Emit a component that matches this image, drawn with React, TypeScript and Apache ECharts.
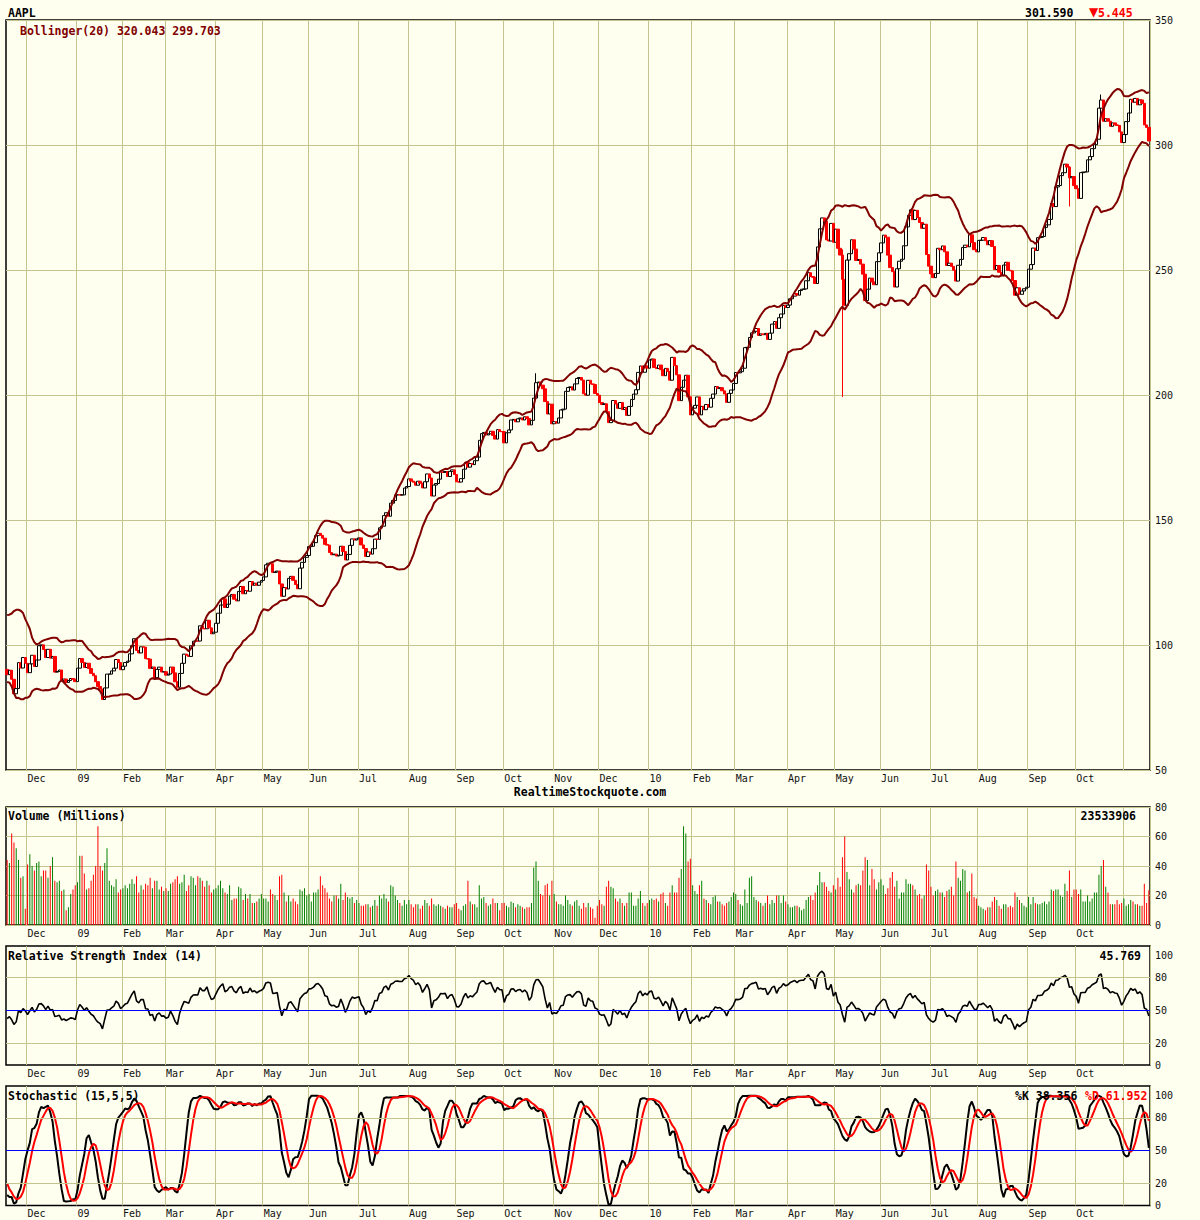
import React, { useEffect, useRef } from 'react';
import * as echarts from 'echarts';

// ---------- DATA ----------
// trading-day closes (USD). Warm-up closes precede the visible range (for indicators only)
const warmupCloses = [98.44, 91.49, 96.87, 98.23, 96.38, 92.09, 99.91, 104.55, 111.04, 107.59, 106.96, 110.99, 103.3, 99.1, 98.24, 95.88, 94.77, 90.12, 96.44, 90.24];

const closes2008 = [
  88.14, 89.91, 86.29, 80.49, 82.58, 92.95, 90.8, 95.0, 92.67,
  88.93, 92.47, 95.9, 91.41, 94.0, 99.72, 100.06, 98.21, 95.0, 98.27, 94.75, 95.43, 89.16, 89.43, 90.0, 85.74, 86.38, 85.04, 85.81, 86.61, 86.29, 85.35,
];
const closes2009 = [
  90.75, 94.58, 93.02, 91.01, 92.7, 90.58, 88.66, 87.71, 85.33, 83.38, 82.33, 78.2, 82.83, 88.36, 88.36, 89.64, 90.73, 94.2, 93.0, 90.13,
  91.51, 92.98, 93.55, 96.46, 99.72, 102.51, 97.83, 96.82, 99.27, 99.16, 94.53, 94.37, 90.64, 91.2, 86.95, 90.25, 91.16, 89.19, 89.31,
  87.94, 88.37, 91.17, 88.84, 85.3, 83.11, 88.63, 92.68, 96.35, 95.93, 95.42, 99.66, 101.52, 101.62, 101.59, 107.66, 106.5, 106.49, 109.87, 106.85, 104.49, 105.12,
  108.69, 112.71, 115.99, 118.45, 115.0, 116.32, 119.57, 120.22, 118.31, 117.64, 121.45, 123.42, 120.5, 121.76, 121.51, 125.4, 123.9, 124.73, 123.9, 125.14, 125.83,
  127.24, 132.07, 132.71, 132.5, 129.06, 129.19, 129.57, 124.42, 119.49, 122.95, 122.42, 126.65, 127.45, 125.87, 124.18, 122.5, 130.78, 133.05, 135.07, 135.81,
  139.35, 139.49, 140.95, 143.74, 144.67, 143.85, 142.72, 140.25, 139.95, 136.97, 136.09, 136.35, 135.58, 135.88, 139.48, 137.37, 134.01, 136.22, 139.86, 142.44, 141.97, 142.43,
  142.83, 140.02, 138.61, 135.4, 137.22, 136.36, 138.52, 142.34, 142.27, 146.88, 147.52, 151.75, 152.91, 151.51, 156.74, 157.82, 159.99, 160.1, 160.0, 160.03, 162.79, 163.39,
  166.43, 165.55, 165.11, 163.91, 165.51, 164.72, 162.83, 165.31, 168.42, 166.78, 159.59, 164.0, 164.6, 166.33, 169.22, 169.06, 169.4, 167.41, 169.45, 170.05, 168.21,
  165.3, 165.18, 166.55, 170.31, 172.93, 171.14, 172.56, 172.16, 173.72, 175.16, 181.87, 184.55, 185.02, 184.02, 184.48, 185.5, 183.82, 182.37, 186.15, 185.38, 185.35,
  180.86, 184.9, 186.02, 190.01, 190.25, 189.27, 190.47, 190.81, 190.02, 191.29, 190.56, 188.05, 189.86, 198.76, 204.92, 205.2, 203.94, 202.48, 197.37, 192.4, 196.35, 188.5,
  189.31, 188.75, 190.81, 194.03, 194.34, 201.46, 202.98, 203.25, 201.99, 204.45, 206.63, 207.0, 205.96, 200.51, 199.92, 205.88, 204.44, 204.19, 200.59, 199.91,
  196.97, 196.23, 196.48, 193.32, 188.95, 189.87, 197.8, 196.43, 194.67, 196.98, 194.17, 195.03, 191.86, 195.43, 198.23, 200.36, 202.1, 209.04, 211.61, 209.1, 211.64, 210.73,
];
const closes2010 = [
  214.01, 214.38, 210.97, 210.58, 211.98, 210.11, 207.72, 210.65, 209.43, 205.93, 215.04, 211.73, 208.07, 197.75, 203.08, 205.94, 207.88, 199.29, 192.06,
  194.73, 195.86, 199.23, 192.05, 195.46, 194.12, 196.19, 195.12, 198.67, 200.38, 203.4, 202.55, 202.93, 201.67, 200.42, 197.06, 200.66, 202.0, 204.62,
  208.99, 208.85, 209.33, 210.71, 218.95, 219.08, 223.02, 224.84, 225.5, 226.6, 223.84, 224.45, 224.12, 224.65, 222.25, 224.75, 228.36, 229.37, 226.65, 230.9, 232.39, 235.84, 235.0,
  235.97, 238.49, 239.54, 240.6, 239.95, 241.79, 242.29, 242.43, 245.69, 248.92, 247.4, 247.07, 244.59, 259.22, 266.47, 270.83, 269.5, 262.04, 261.6, 268.64, 261.09,
  266.35, 258.68, 255.98, 246.25, 235.86, 253.99, 256.52, 262.09, 258.36, 253.82, 254.22, 252.36, 248.34, 237.76, 242.32, 246.76, 245.22, 244.11, 253.35, 256.88,
  260.83, 263.95, 263.12, 255.96, 250.94, 249.33, 243.2, 250.51, 253.51, 254.28, 259.69, 267.25, 271.87, 274.07, 270.17, 273.85, 270.97, 269.0, 266.7, 268.3, 256.17, 251.53,
  248.48, 246.94, 248.63, 258.67, 258.09, 259.62, 257.28, 251.8, 252.73, 251.45, 249.9, 245.58, 251.89, 254.24, 259.02, 259.94, 259.28, 264.08, 260.96, 258.11, 257.25,
  261.85, 261.93, 262.98, 261.7, 260.09, 261.75, 259.41, 250.19, 251.79, 249.1, 247.64, 251.97, 253.07, 249.88, 249.64, 245.8, 239.93, 242.89, 240.28, 241.62, 242.5, 243.1,
  250.33, 252.17, 258.77, 257.81, 262.92, 263.07, 263.41, 267.04, 268.06, 270.22, 276.57, 275.37, 283.23, 283.77, 287.75, 288.92, 292.32, 291.16, 286.86, 287.37, 283.75,
  282.52, 278.64, 288.94, 289.19, 289.22, 294.07, 295.36, 298.54, 300.14, 302.31, 314.74, 318.0, 309.49, 310.53, 309.52, 307.47, 308.84, 308.05, 307.83, 305.24, 300.98,
  304.18, 309.36, 312.8, 318.27, 317.13, 318.62, 316.08, 318.03, 316.66, 308.03, 307.04, 301.59,
];

// daily volume, millions of shares (visible range)
const volumes2008 = [
  44, 42, 62, 56, 52, 44, 32, 33, 11,
  41, 48, 40, 37, 42, 43, 33, 37, 37, 32, 40, 46, 30, 29, 30, 23, 24, 10, 12, 21, 24, 27,
];
const volumes2009 = [
  29, 47, 47, 35, 24, 25, 30, 34, 40, 67, 40, 37, 42, 52, 30, 27, 26, 31, 22, 24,
  25, 27, 25, 28, 31, 28, 33, 22, 27, 24, 28, 27, 32, 25, 30, 30, 24, 26, 23,
  25, 23, 28, 29, 31, 33, 28, 29, 34, 23, 27, 33, 32, 27, 33, 32, 30, 26, 30, 27, 22, 24,
  25, 27, 30, 25, 22, 21, 27, 17, 18, 18, 26, 25, 17, 21, 18, 21, 15, 15, 16, 18, 21,
  18, 18, 16, 24, 21, 20, 17, 33, 34, 22, 16, 20, 16, 18, 16, 14, 24, 23, 25, 20,
  21, 16, 22, 22, 24, 33, 27, 25, 22, 18, 16, 20, 20, 18, 28, 17, 22, 19, 18, 19, 15, 17,
  15, 13, 13, 14, 14, 12, 13, 17, 13, 20, 18, 21, 18, 16, 27, 26, 20, 17, 15, 13, 17, 14,
  17, 14, 12, 14, 14, 11, 13, 17, 15, 13, 18, 14, 13, 14, 13, 12, 11, 13, 12, 12, 14,
  15, 11, 10, 13, 14, 30, 16, 14, 14, 12, 27, 18, 19, 15, 13, 14, 18, 15, 15, 10, 15,
  15, 13, 12, 16, 15, 12, 14, 13, 12, 11, 12, 12, 15, 39, 43, 30, 21, 20, 27, 28, 20, 30,
  21, 16, 14, 14, 13, 20, 17, 14, 13, 16, 17, 13, 11, 15, 12, 15, 12, 11, 5, 13,
  17, 14, 13, 26, 30, 26, 25, 18, 16, 18, 15, 13, 15, 22, 22, 13, 13, 18, 23, 15, 13, 15,
];
const volumes2010 = [
  17, 18, 17, 18, 16, 21, 22, 15, 13, 22, 27, 22, 22, 32, 38, 67, 62, 43, 45,
  27, 23, 21, 27, 30, 18, 17, 15, 14, 19, 20, 16, 16, 14, 13, 15, 16, 19, 22,
  21, 17, 14, 13, 24, 15, 32, 33, 19, 17, 16, 15, 13, 15, 20, 14, 17, 15, 20, 20, 15, 20, 16,
  14, 12, 12, 13, 13, 12, 10, 11, 17, 19, 20, 17, 22, 27, 36, 29, 29, 26, 23, 22, 27,
  24, 32, 26, 46, 60, 36, 31, 24, 22, 27, 28, 27, 37, 46, 44, 27, 38, 31, 24, 29,
  31, 27, 21, 25, 32, 36, 26, 30, 18, 22, 22, 31, 28, 28, 27, 24, 20, 21, 18, 20, 41, 37,
  26, 20, 23, 24, 22, 22, 19, 23, 24, 26, 20, 43, 32, 30, 38, 37, 22, 23, 35, 19, 18,
  13, 12, 11, 10, 12, 12, 16, 19, 17, 13, 11, 14, 14, 12, 13, 12, 22, 19, 17, 15, 13, 12,
  19, 14, 19, 15, 14, 14, 15, 16, 14, 16, 24, 23, 24, 24, 20, 19, 28, 23, 37, 19, 24,
  24, 21, 24, 16, 16, 20, 16, 18, 22, 22, 34, 40, 44, 26, 22, 14, 14, 14, 17, 14, 15,
  18, 13, 14, 17, 16, 14, 14, 13, 13, 28, 15, 23.53,
];

// notable intraday extremes (wicks)
const wickDates = ['2009-10-21', '2010-05-06', '2010-09-28', '2010-10-18'];
const wickHighs = [208.7, 258.25, 291.5, 320.2];
const wickLows = [202.5, 199.25, 275.4, 309.0];

const holidays = ['2008-11-27', '2008-12-25', '2009-01-01', '2009-01-19', '2009-02-16', '2009-04-10', '2009-05-25', '2009-07-03', '2009-09-07', '2009-11-26', '2009-12-25', '2010-01-01', '2010-01-18', '2010-02-15', '2010-04-02', '2010-05-31', '2010-07-05', '2010-09-06'];
const warmupStart = '2008-10-20';
const firstVisible = '2008-11-17';
const lastDay = '2010-11-16';

const monthNames = ['Jan', 'Feb', 'Mar', 'Apr', 'May', 'Jun', 'Jul', 'Aug', 'Sep', 'Oct', 'Nov', 'Dec'];
const oscLabels = [0, 20, 50, 80, 100];

const headerTicker = 'AAPL';
const headerLast = '301.590';
const headerArrow = '▼';
const headerChange = '5.445';
const bollingerText = 'Bollinger(20) 320.043 299.703';
const volumeText = 'Volume (Millions)';
const volumeLast = '23533906';
const rsiText = 'Relative Strength Index (14)';
const rsiLast = '45.769';
const stochText = 'Stochastic (15,5,5)';
const stochK = '%K 38.356';
const stochD = '%D 61.952';
const siteText = 'RealtimeStockquote.com';

// ---------- helpers ----------
function buildDates(start: string, end: string) {
  const out: string[] = [];
  const d = new Date(start + 'T00:00:00Z');
  const e = new Date(end + 'T00:00:00Z');
  while (d <= e) {
    const wd = d.getUTCDay();
    const s = d.toISOString().slice(0, 10);
    if (wd !== 0 && wd !== 6 && holidays.indexOf(s) < 0) out.push(s);
    d.setUTCDate(d.getUTCDate() + 1);
  }
  return out;
}

function buildAll() {
  const allDates = buildDates(warmupStart, lastDay);
  const allCloses = warmupCloses.concat(closes2008, closes2009, closes2010);
  const n = Math.min(allDates.length, allCloses.length);
  const closes = allCloses.slice(0, n);
  const dates = allDates.slice(0, n);
  const opens = closes.map((c, i) => (i === 0 ? c : closes[i - 1]));
  const highs = closes.map((c, i) => Math.max(c, opens[i]));
  const lows = closes.map((c, i) => Math.min(c, opens[i]));
  wickDates.forEach((wd, k) => {
    const i = dates.indexOf(wd);
    if (i >= 0) {
      highs[i] = Math.max(highs[i], wickHighs[k]);
      lows[i] = Math.min(lows[i], wickLows[k]);
    }
  });
  // Bollinger 20, 2
  const upper: number[] = [];
  const lower: number[] = [];
  for (let i = 0; i < n; i++) {
    const s = Math.max(0, i - 19);
    const w = closes.slice(s, i + 1);
    const m = w.reduce((a, b) => a + b, 0) / w.length;
    const sd = Math.sqrt(w.reduce((a, b) => a + (b - m) * (b - m), 0) / w.length);
    upper.push(m + 2 * sd);
    lower.push(m - 2 * sd);
  }
  // RSI 14 (Wilder)
  const rsi: number[] = new Array(n).fill(50);
  let ag = 0, al = 0;
  for (let i = 1; i < n; i++) {
    const ch = closes[i] - closes[i - 1];
    const g = Math.max(ch, 0), l = Math.max(-ch, 0);
    if (i <= 14) {
      ag += g / 14; al += l / 14;
    } else {
      ag = (ag * 13 + g) / 14; al = (al * 13 + l) / 14;
    }
    rsi[i] = al === 0 ? 100 : 100 - 100 / (1 + ag / al);
  }
  // Stochastic 15,5,5
  const raw: number[] = [];
  for (let i = 0; i < n; i++) {
    const s = Math.max(0, i - 14);
    let hh = -Infinity, ll = Infinity;
    for (let j = s; j <= i; j++) { hh = Math.max(hh, highs[j]); ll = Math.min(ll, lows[j]); }
    raw.push(hh === ll ? 50 : ((closes[i] - ll) / (hh - ll)) * 100);
  }
  const sma = (arr: number[], p: number) => arr.map((_, i) => {
    const s = Math.max(0, i - p + 1);
    const w = arr.slice(s, i + 1);
    return w.reduce((a, b) => a + b, 0) / w.length;
  });
  const kLine = sma(raw, 5);
  const dLine = sma(kLine, 5);

  const start = Math.max(0, dates.indexOf(firstVisible));
  const allVol = volumes2008.concat(volumes2009, volumes2010);
  const volOffset = allVol.length - (n - start);
  const vis = (a: any[]) => a.slice(start);
  return {
    dates: vis(dates),
    candles: vis(closes.map((c, i) => [opens[i], c, lows[i], highs[i]])),
    closes: vis(closes),
    opens: vis(opens),
    upper: vis(upper),
    lower: vis(lower),
    rsi: vis(rsi),
    k: vis(kLine),
    d: vis(dLine),
    vol: allVol.slice(Math.max(0, volOffset)),
  };
}

const BG = '#FFFFF0';
const GRID = '#C4C48F';
const MONO = '"DejaVu Sans Mono", "Liberation Mono", monospace';

export default function App() {
  const ref = useRef<HTMLDivElement>(null);
  useEffect(() => {
    if (!ref.current) return;
    const chart = echarts.init(ref.current, undefined, { renderer: 'svg' });
    const D = buildAll();
    const dates = D.dates;
    const isMonthStart = (i: number) => i > 0 && dates[i] && dates[i - 1] && dates[i].slice(0, 7) !== dates[i - 1].slice(0, 7);
    const labelFmt = (v: string) => {
      if (v >= '2010-11') return '';
      const m = parseInt(v.slice(5, 7), 10);
      if (m === 1) return v.slice(2, 4);
      return monthNames[m - 1];
    };
    const grids = [
      { top: 20, height: 750 },
      { top: 807, height: 118 },
      { top: 946, height: 119 },
      { top: 1086, height: 119.5 },
    ].map((g) => ({ left: 6, right: 50, top: g.top, height: g.height, show: true, borderColor: '#000', borderWidth: 1.5, backgroundColor: BG }));

    const xAxes = grids.map((_, gi) => ({
      type: 'category',
      gridIndex: gi,
      data: dates,
      boundaryGap: true,
      axisLine: { show: false },
      axisTick: { show: false },
      splitLine: { show: true, interval: (i: number) => isMonthStart(i), lineStyle: { color: GRID, width: 1 } },
      axisLabel: {
        interval: (i: number) => isMonthStart(i),
        formatter: labelFmt,
        align: 'left',
        color: '#111',
        fontFamily: MONO,
        fontSize: 10,
        margin: 3,
      },
    }));

    const baseY = (gi: number, min: number, max: number, interval: number, split: boolean, fmt?: any) => ({
      type: 'value',
      gridIndex: gi,
      position: 'right',
      min,
      max,
      interval,
      axisLine: { show: false },
      axisTick: { show: false },
      splitLine: { show: split, lineStyle: { color: GRID, width: 1 } },
      axisLabel: { color: '#111', fontFamily: MONO, fontSize: 10, margin: 5, formatter: fmt, showMinLabel: true, showMaxLabel: true },
    });
    const oscFmt = (v: number) => (oscLabels.indexOf(Math.round(v)) >= 0 && Math.abs(v - Math.round(v)) < 1e-6 ? String(Math.round(v)) : '');

    const refLines = () => ({
      silent: true,
      symbol: 'none',
      label: { show: false },
      animation: false,
      data: [
        { yAxis: 20, lineStyle: { color: GRID, width: 1, type: 'solid' } },
        { yAxis: 80, lineStyle: { color: GRID, width: 1, type: 'solid' } },
        { yAxis: 50, lineStyle: { color: '#0000FF', width: 1, type: 'solid' } },
      ],
    });

    const volData = D.vol.map((v, i) => ({
      value: v,
      itemStyle: { color: D.closes[i] >= D.opens[i] ? '#008000' : '#FF0000' },
    }));

    const txt = (x: number, y: number, text: string, fill: string, align = 'left', family = MONO, size = 11.5) => ({
      type: 'text',
      x,
      y,
      silent: true,
      z: 100,
      style: { text, fill, font: `bold ${size}px ${family}`, textAlign: align, align, textVerticalAlign: 'top', verticalAlign: 'top' },
    });

    chart.setOption({
      animation: false,
      backgroundColor: BG,
      grid: grids,
      xAxis: xAxes,
      yAxis: [
        baseY(0, 50, 350, 50, true),
        baseY(1, 0, 80, 20, true),
        baseY(2, 0, 109, 10, false, oscFmt),
        baseY(3, 0, 109, 10, false, oscFmt),
      ],
      series: [
        {
          type: 'candlestick',
          xAxisIndex: 0,
          yAxisIndex: 0,
          data: D.candles,
          barWidth: 3,
          itemStyle: { color: BG, color0: '#FF0000', borderColor: '#000000', borderColor0: '#FF0000', borderWidth: 1 },
        },
        { type: 'line', xAxisIndex: 0, yAxisIndex: 0, data: D.upper, symbol: 'none', lineStyle: { color: '#800000', width: 2 } },
        { type: 'line', xAxisIndex: 0, yAxisIndex: 0, data: D.lower, symbol: 'none', lineStyle: { color: '#800000', width: 2 } },
        { type: 'bar', xAxisIndex: 1, yAxisIndex: 1, data: volData, barWidth: 1 },
        { type: 'line', xAxisIndex: 2, yAxisIndex: 2, data: D.rsi, symbol: 'none', lineStyle: { color: '#000', width: 1.6 }, markLine: refLines() },
        { type: 'line', xAxisIndex: 3, yAxisIndex: 3, data: D.k, symbol: 'none', lineStyle: { color: '#000', width: 2 }, markLine: refLines() },
        { type: 'line', xAxisIndex: 3, yAxisIndex: 3, data: D.d, symbol: 'none', lineStyle: { color: '#FF0000', width: 2 } },
      ],
      graphic: [
        txt(8, 7, headerTicker, '#000'),
        txt(1025, 7, headerLast, '#000'),
        txt(1089, 6, headerArrow, '#FF0000', 'left', '"DejaVu Sans", sans-serif', 12),
        txt(1098, 7, headerChange, '#FF0000'),
        txt(20, 25, bollingerText, '#800000'),
        txt(590, 786, siteText, '#000', 'center'),
        txt(8, 810, volumeText, '#000'),
        txt(1136, 810, volumeLast, '#000', 'right'),
        txt(8, 950, rsiText, '#000'),
        txt(1141, 950, rsiLast, '#000', 'right'),
        txt(8, 1090, stochText, '#000'),
        txt(1015, 1090, stochK, '#000'),
        txt(1085, 1090, stochD, '#FF0000'),
      ],
    });
    return () => chart.dispose();
  }, []);
  return (
    <div style={{ position: 'absolute', left: 0, top: 0, width: 1200, height: 1220, background: BG }}>
      <div ref={ref} style={{ width: 1200, height: 1220 }} />
    </div>
  );
}
